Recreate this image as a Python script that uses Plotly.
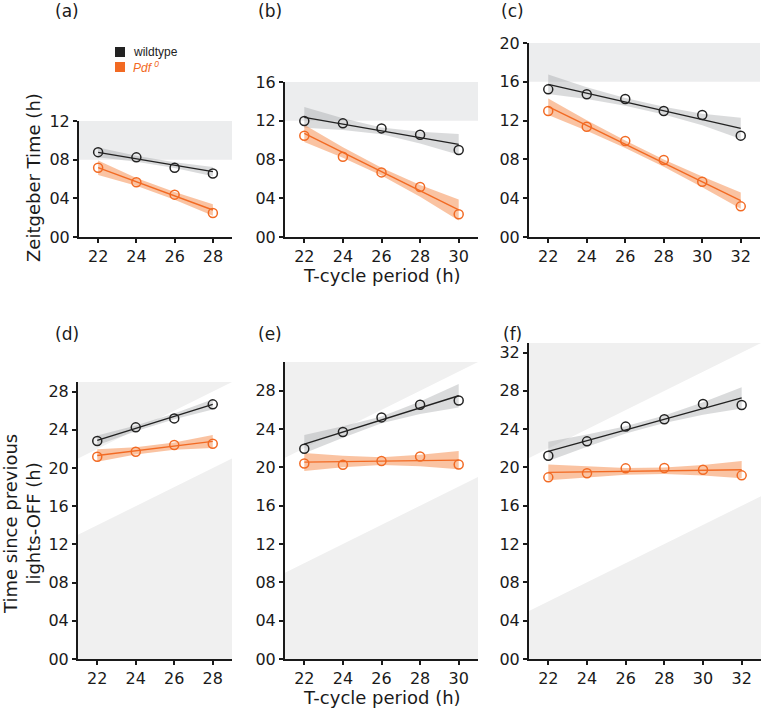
import plotly.graph_objects as go

W, H = 764, 710

# ---------------- data ----------------
period_a = [22, 24, 26, 28]
period_b = [22, 24, 26, 28, 30]
period_c = [22, 24, 26, 28, 30, 32]

# Zeitgeber time of peak (top row)
wt_a = [8.78, 8.24, 7.17, 6.57]
pdf_a = [7.17, 5.66, 4.38, 2.48]
wt_b = [11.97, 11.73, 11.21, 10.56, 8.98]
pdf_b = [10.46, 8.29, 6.67, 5.16, 2.34]
wt_c = [15.22, 14.71, 14.23, 12.99, 12.58, 10.45]
pdf_c = [12.99, 11.37, 9.90, 7.94, 5.70, 3.16]

# Time since previous lights-OFF (bottom row)
wt_d = [22.82, 24.25, 25.19, 26.66]
pdf_d = [21.17, 21.70, 22.40, 22.54]
wt_e = [21.94, 23.69, 25.22, 26.54, 26.99]
pdf_e = [20.41, 20.27, 20.66, 21.14, 20.31]
wt_f = [21.23, 22.73, 24.27, 25.04, 26.64, 26.53]
pdf_f = [18.97, 19.39, 19.91, 19.94, 19.77, 19.18]

# regression line values at first and last period
fit_wt_a = [8.76, 6.76];   fit_pdf_a = [7.17, 2.79]
fit_wt_b = [12.35, 9.56];  fit_pdf_b = [10.70, 2.79]
fit_wt_c = [15.74, 11.20]; fit_pdf_c = [13.43, 3.75]
fit_wt_d = [22.89, 26.66]; fit_pdf_d = [21.31, 22.78]
fit_wt_e = [22.43, 27.48]; fit_pdf_e = [20.55, 20.76]
fit_wt_f = [21.69, 27.27]; fit_pdf_f = [19.49, 19.77]

# confidence band half-widths at each period
ci_wt_a = [0.50, 0.30, 0.30, 0.47];             ci_pdf_a = [0.75, 0.40, 0.40, 0.60]
ci_wt_b = [1.07, 0.60, 0.35, 0.60, 1.07];       ci_pdf_b = [0.90, 0.55, 0.40, 0.60, 1.08]
ci_wt_c = [1.00, 0.60, 0.40, 0.40, 0.60, 1.10]; ci_pdf_c = [0.85, 0.55, 0.38, 0.38, 0.55, 0.85]
ci_wt_d = [0.52, 0.30, 0.30, 0.54];             ci_pdf_d = [0.65, 0.38, 0.38, 0.68]
ci_wt_e = [0.96, 0.60, 0.35, 0.65, 1.22];       ci_pdf_e = [0.94, 0.60, 0.40, 0.60, 0.96]
ci_wt_f = [1.01, 0.65, 0.38, 0.38, 0.65, 1.11]; ci_pdf_f = [0.82, 0.55, 0.35, 0.35, 0.55, 0.90]

# axis ranges and ticks
x_max = {"a": 29, "b": 31, "c": 33, "d": 29, "e": 31, "f": 33}
y_max = {"a": 12, "b": 16, "c": 20, "d": 29, "e": 31, "f": 33}
ytick_a = [0, 4, 8, 12]
ytick_b = [0, 4, 8, 12, 16]
ytick_c = [0, 4, 8, 12, 16, 20]
ytick_d = [0, 4, 8, 12, 16, 20, 24, 28]
ytick_e = [0, 4, 8, 12, 16, 20, 24, 28]
ytick_f = [0, 4, 8, 12, 16, 20, 24, 28, 32]

# shaded lights-OFF windows
dark_band_top = {"a": [8, 12], "b": [12, 16], "c": [16, 20]}
half_period = {"d": 8, "e": 12, "f": 16}

panel_labels = ["(a)", "(b)", "(c)", "(d)", "(e)", "(f)"]
legend_names = ["wildtype", "<i>Pdf <sup>0</sup></i>"]

# ---------------- style ----------------
ORANGE = "#F26A23"
DARK = "#222222"
WT_BAND = "rgba(150,152,155,0.35)"
PDF_BAND = "rgba(245,130,60,0.48)"
SHADE_TOP = "#ECEDEE"
SHADE_BOT = "#F0F0F0"
FONT = "DejaVu Sans"

# pixel boxes (left, right, top, bottom) of each plotting area
boxes = {
    "a": (79, 232, 121, 237),
    "b": (285, 478, 82, 237),
    "c": (529, 760, 43, 237),
    "d": (78, 232, 382, 659),
    "e": (285, 478, 362, 659),
    "f": (529, 761, 343, 659),
}

panels = [
    ("a", period_a, wt_a, pdf_a, fit_wt_a, fit_pdf_a, ci_wt_a, ci_pdf_a, ytick_a),
    ("b", period_b, wt_b, pdf_b, fit_wt_b, fit_pdf_b, ci_wt_b, ci_pdf_b, ytick_b),
    ("c", period_c, wt_c, pdf_c, fit_wt_c, fit_pdf_c, ci_wt_c, ci_pdf_c, ytick_c),
    ("d", period_a, wt_d, pdf_d, fit_wt_d, fit_pdf_d, ci_wt_d, ci_pdf_d, ytick_d),
    ("e", period_b, wt_e, pdf_e, fit_wt_e, fit_pdf_e, ci_wt_e, ci_pdf_e, ytick_e),
    ("f", period_c, wt_f, pdf_f, fit_wt_f, fit_pdf_f, ci_wt_f, ci_pdf_f, ytick_f),
]

fig = go.Figure()
shapes = []
layout = {}


def line_at(xs, fit):
    x0, x1 = xs[0], xs[-1]
    return [fit[0] + (fit[1] - fit[0]) * (x - x0) / (x1 - x0) for x in xs]


for i, (key, xs, wt, pdf, fwt, fpdf, cwt, cpdf, yt) in enumerate(panels, start=1):
    xa = "x" if i == 1 else f"x{i}"
    ya = "y" if i == 1 else f"y{i}"
    l, r, t, b = boxes[key]
    xmax, ymax = x_max[key], y_max[key]

    # background shading
    if key in dark_band_top:
        y0, y1 = dark_band_top[key]
        shapes.append(dict(type="rect", xref=xa, yref=ya, x0=21, x1=xmax, y0=y0, y1=y1,
                           fillcolor=SHADE_TOP, line=dict(width=0), layer="below"))
    else:
        hp = half_period[key]
        shapes.append(dict(type="path", xref=xa, yref=ya,
                           path=f"M 21 21 L {xmax} {xmax} L {xmax} {ymax} L 21 {ymax} Z",
                           fillcolor=SHADE_BOT, line=dict(width=0), layer="below"))
        shapes.append(dict(type="path", xref=xa, yref=ya,
                           path=f"M 21 0 L 21 {21 - hp} L {xmax} {xmax - hp} L {xmax} 0 Z",
                           fillcolor=SHADE_BOT, line=dict(width=0), layer="below"))

    # confidence bands
    for fit, ci, col in ((fwt, cwt, WT_BAND), (fpdf, cpdf, PDF_BAND)):
        yl = line_at(xs, fit)
        up = [v + h for v, h in zip(yl, ci)]
        lo = [v - h for v, h in zip(yl, ci)]
        fig.add_trace(go.Scatter(x=xs + xs[::-1], y=up + lo[::-1], fill="toself",
                                 fillcolor=col, line=dict(width=0), mode="lines",
                                 hoverinfo="skip", showlegend=False, xaxis=xa, yaxis=ya))
    # regression lines
    for fit, col in ((fwt, DARK), (fpdf, ORANGE)):
        fig.add_trace(go.Scatter(x=[xs[0], xs[-1]], y=fit, mode="lines",
                                 line=dict(color=col, width=1.4),
                                 showlegend=False, xaxis=xa, yaxis=ya))
    # data points
    for vals, col in ((wt, DARK), (pdf, ORANGE)):
        fig.add_trace(go.Scatter(x=xs, y=vals, mode="markers",
                                 marker=dict(symbol="circle-open", size=9,
                                             line=dict(color=col, width=1.5), color=col),
                                 showlegend=False, xaxis=xa, yaxis=ya))

    axis_common = dict(showline=True, linecolor="#1a1a1a", linewidth=2, ticks="outside",
                       ticklen=4, tickwidth=1.5, tickcolor="#1a1a1a", showgrid=False,
                       zeroline=False, automargin=False,
                       tickfont=dict(family=FONT, size=16, color="#1a1a1a"))
    layout["xaxis" if i == 1 else f"xaxis{i}"] = dict(
        axis_common, domain=[l / W, r / W], range=[21, xmax],
        tickvals=xs, ticktext=[str(v) for v in xs], anchor=ya)
    layout["yaxis" if i == 1 else f"yaxis{i}"] = dict(
        axis_common, domain=[1 - b / H, 1 - t / H], range=[0, ymax],
        tickvals=yt, ticktext=[f"{v:02d}" for v in yt], anchor=xa)

annotations = []

# legend (key squares + labels)
for name, col, cy in zip(legend_names, (DARK, ORANGE), (52, 67)):
    shapes.append(dict(type="rect", xref="paper", yref="paper",
                       x0=115 / W, x1=125 / W, y0=1 - (cy + 5) / H, y1=1 - (cy - 5) / H,
                       fillcolor=col, line=dict(width=0)))
    annotations.append(dict(text=name, x=131 / W, y=1 - cy / H, xref="paper", yref="paper",
                            showarrow=False, xanchor="left", yanchor="middle",
                            font=dict(family="Liberation Sans", size=12, color=col)))

label_pos = [(66.5, 11.5), (269.5, 11.5), (512, 11.5), (66.5, 334), (269.5, 334), (512, 334)]
for lab, (px, py) in zip(panel_labels, label_pos):
    annotations.append(dict(text=lab, x=px / W, y=1 - py / H, xref="paper", yref="paper",
                            showarrow=False, xanchor="center", yanchor="middle",
                            font=dict(family=FONT, size=17, color="#1a1a1a")))

annotations.append(dict(text="Zeitgeber Time (h)", x=33 / W, y=1 - 178 / H, xref="paper",
                        yref="paper", showarrow=False, textangle=-90,
                        xanchor="center", yanchor="middle",
                        font=dict(family=FONT, size=18, color="#1a1a1a")))
annotations.append(dict(text="Time since previous<br>lights-OFF (h)", x=22 / W, y=1 - 524 / H,
                        xref="paper", yref="paper", showarrow=False, textangle=-90,
                        xanchor="center", yanchor="middle",
                        font=dict(family=FONT, size=18, color="#1a1a1a")))
for py in (276, 697):
    annotations.append(dict(text="T-cycle period (h)", x=382 / W, y=1 - py / H, xref="paper",
                            yref="paper", showarrow=False, xanchor="center", yanchor="middle",
                            font=dict(family=FONT, size=18, color="#1a1a1a")))

fig.update_layout(
    width=W, height=H, margin=dict(l=0, r=0, t=0, b=0),
    paper_bgcolor="white", plot_bgcolor="white",
    showlegend=False,
    shapes=shapes, annotations=annotations, **layout)

fig.write_html("out.html",
               config={"displayModeBar": False},
               post_script="document.body.style.margin='0';document.body.style.overflow='hidden';")
